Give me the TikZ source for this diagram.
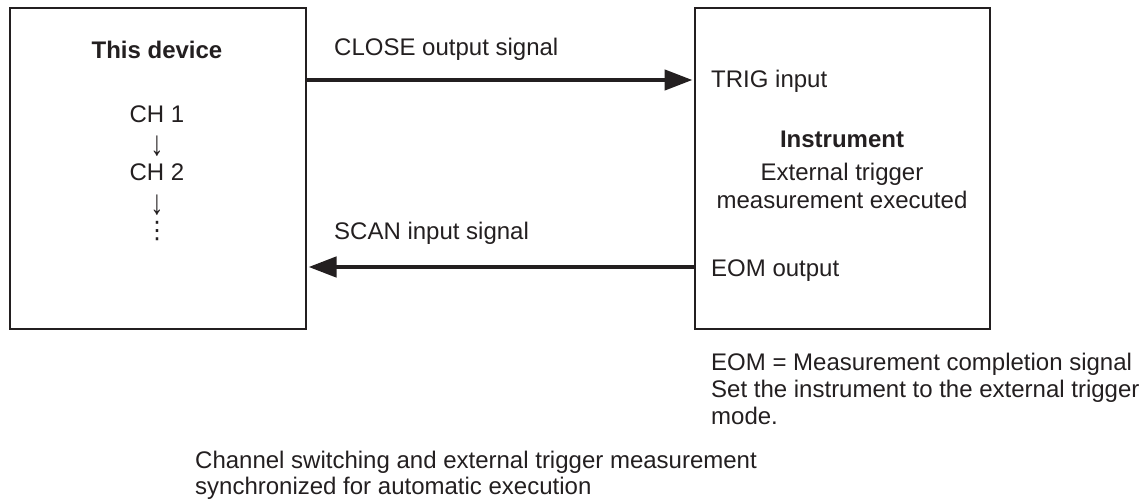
\documentclass[tikz,border=0pt]{standalone}
\usepackage{fontspec}
\usepackage{graphicx}
\setmainfont{Liberation Sans}
\newfontfamily\symfont{DejaVu Sans}
\usetikzlibrary{arrows.meta}
\definecolor{ink}{HTML}{231F20}
\tikzset{
  box/.style={draw=ink, line width=2pt, inner sep=0pt, anchor=north west},
  txt/.style={inner sep=0pt, text=ink, font=\fontsize{24}{28}\selectfont},
  sig/.style={draw=ink, line width=4.5pt, -{Triangle[length=28pt,width=20pt]}, shorten >=1.5pt},
}
\begin{document}
\begin{tikzpicture}[x=1pt,y=-1pt]
\useasboundingbox (0,0) rectangle (1146,503);
% boxes
\node[box, minimum width=296pt, minimum height=321pt] (dev) at (9,7) {};
\node[box, minimum width=295pt, minimum height=321pt] (ins) at (694,7) {};
% left box text
\node[txt, anchor=base, font=\fontsize{24}{28}\selectfont\bfseries] (devt) at (157,59) {This device};
\node[txt, anchor=base] (ch1) at (157,122) {CH 1};
\node[txt, anchor=center] (ar1) at (157,146) {\scalebox{1.1}[1.45]{↓}};
\node[txt, anchor=base] (ch2) at (157,180) {CH 2};
\node[txt, anchor=center] (ar2) at (157,205) {\scalebox{1.1}[1.45]{↓}};
\node[txt, anchor=center, font=\fontsize{24}{28}\symfont] (dots) at (157,231) {⋮};
% right box text
\node[txt, anchor=base west] (trig) at (711,88) {TRIG input};
\node[txt, anchor=base, font=\fontsize{24}{28}\selectfont\bfseries] (inst) at (842,147) {Instrument};
\node[txt, anchor=base] (ext1) at (842,180) {External trigger};
\node[txt, anchor=base] (ext2) at (842,208) {measurement executed};
\node[txt, anchor=base west] (eom) at (711,276) {EOM output};
% connector labels
\node[txt, anchor=base west] (closel) at (334,56) {CLOSE output signal};
\node[txt, anchor=base west] (scanl) at (334,239) {SCAN input signal};
% connectors
\coordinate (r1) at (0,80);
\coordinate (r2) at (0,267);
\draw[sig] (dev.east |- r1) -- (ins.west |- r1);
\draw[sig] (ins.west |- r2) -- (dev.east |- r2);
% notes
\node[txt, anchor=base west] (n1) at (711,370) {EOM = Measurement completion signal};
\node[txt, anchor=base west] (n2) at (711,397) {Set the instrument to the external trigger};
\node[txt, anchor=base west] (n3) at (711,424) {mode.};
\node[txt, anchor=base west] (n4) at (195,468) {Channel switching and external trigger measurement};
\node[txt, anchor=base west] (n5) at (195,494) {synchronized for automatic execution};
\end{tikzpicture}
\end{document}
